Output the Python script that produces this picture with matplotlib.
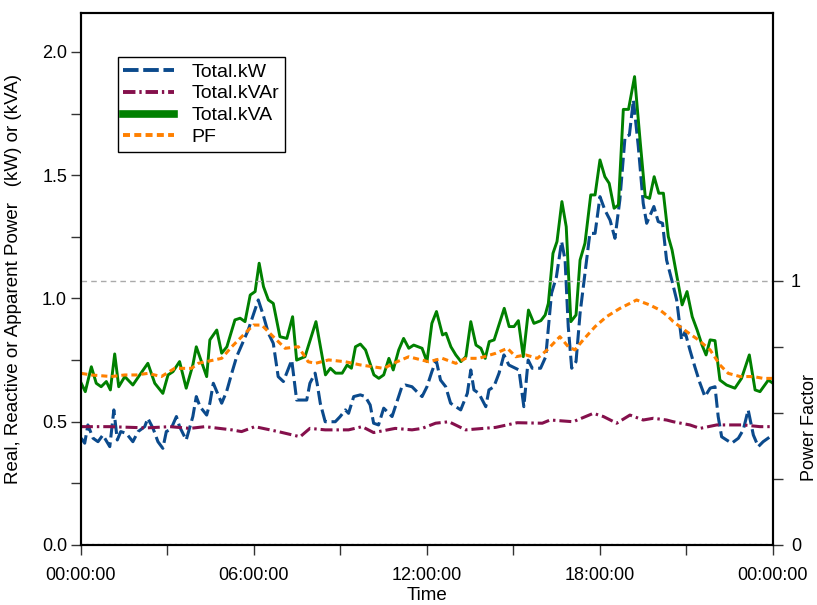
import matplotlib
matplotlib.use('Agg')
import matplotlib.pyplot as plt
from matplotlib.ticker import MultipleLocator, FixedLocator, FuncFormatter
from matplotlib.lines import Line2D

plt.rcParams['font.family'] = ['Liberation Sans', 'DejaVu Sans']

# Readings, time in hours of the day
kw_hours = [0.01, 0.13, 0.24, 0.42, 0.59, 0.76, 1.0, 1.14, 1.26, 1.38, 1.57, 1.80, 1.98, 2.21, 2.32,
            2.50, 2.67, 2.84, 2.96, 3.12, 3.31, 3.42, 3.65, 3.88, 4.0, 4.13, 4.36, 4.47, 4.59, 4.88,
            5.05, 5.23, 5.40, 5.80, 6.15, 6.32, 6.50, 6.67, 6.84, 7.02, 7.31, 7.48, 7.83, 7.94, 8.12,
            8.19, 8.30, 8.47, 8.82, 8.99, 9.17, 9.28, 9.46, 9.69, 9.86, 10.03, 10.15, 10.32, 10.50,
            10.79, 11.13, 11.25, 11.48, 11.65, 11.83, 12.0, 12.17, 12.32, 12.47, 12.65, 12.82, 13.0,
            13.17, 13.40, 13.52, 13.63, 13.80, 14.04, 14.15, 14.32, 14.50, 14.67, 14.84, 15.19, 15.36,
            15.51, 15.65, 15.94, 16.12, 16.32, 16.49, 16.67, 16.79, 16.90, 17.02, 17.17, 17.31, 17.48,
            17.65, 17.83, 18.0, 18.17, 18.35, 18.52, 18.69, 18.87, 19.02, 19.16, 19.33, 19.50, 19.62,
            19.87, 20.02, 20.17, 20.31, 20.49, 20.66, 20.83, 20.95, 21.12, 21.29, 21.47, 21.64, 21.82,
            21.99, 22.10, 22.22, 22.39, 22.57, 22.80, 22.97, 23.14, 23.32, 23.49, 23.66, 23.90, 24.0]
kw = [0.433, 0.413, 0.487, 0.433, 0.419, 0.446, 0.399, 0.548, 0.426, 0.46, 0.453, 0.419, 0.46, 0.48, 0.514,
      0.473, 0.419, 0.392, 0.46, 0.47, 0.521, 0.48, 0.426, 0.521, 0.602, 0.561, 0.527, 0.575, 0.656, 0.575,
      0.622, 0.697, 0.764, 0.872, 0.994, 0.933, 0.859, 0.818, 0.683, 0.663, 0.75, 0.588, 0.588, 0.656, 0.697,
      0.656, 0.575, 0.5, 0.5, 0.521, 0.548, 0.534, 0.602, 0.609, 0.602, 0.568, 0.494, 0.487, 0.555,
      0.521, 0.642, 0.649, 0.642, 0.622, 0.602, 0.642, 0.703, 0.75, 0.669, 0.642, 0.575, 0.561,
      0.548, 0.615, 0.71, 0.629, 0.615, 0.561, 0.629, 0.642, 0.697, 0.771, 0.73, 0.71, 0.561,
      0.75, 0.717, 0.717, 0.764, 1.021, 1.088, 1.231, 1.156, 0.886, 0.717, 0.744, 0.94, 1.102,
      1.264, 1.264, 1.413, 1.359, 1.318, 1.244, 1.4, 1.656, 1.663, 1.805, 1.616, 1.386, 1.305,
      1.373, 1.312, 1.305, 1.156, 1.075, 0.994, 0.832, 0.865, 0.791, 0.723, 0.656, 0.602, 0.636,
      0.642, 0.521, 0.439, 0.426, 0.413, 0.433, 0.467, 0.548, 0.446, 0.399, 0.419, 0.439, 0.433]

kvar_hours = [0.0, 1.0, 2.28, 3.09, 3.78, 4.30, 5.23, 5.57, 6.03, 6.84, 7.60, 7.94, 8.47, 9.28, 9.75,
              10.15, 10.90, 11.48, 11.83, 12.30, 12.76, 13.34, 14.38, 15.13, 16.0, 16.27, 17.07, 17.77,
              18.12, 18.58, 19.04, 19.50, 19.85, 20.31, 20.54, 21.12, 21.47, 22.05, 22.97, 23.55, 24.0]
kvar = [0.48, 0.48, 0.475, 0.48, 0.473, 0.48, 0.467, 0.46, 0.48, 0.46, 0.439, 0.473, 0.467, 0.467, 0.48,
        0.456, 0.473, 0.467, 0.473, 0.494, 0.5, 0.467, 0.477, 0.496, 0.494, 0.507, 0.5, 0.534,
        0.521, 0.494, 0.527, 0.507, 0.514, 0.507, 0.5, 0.487, 0.473, 0.487, 0.487, 0.48, 0.48]

kva_hours = [0.01, 0.15, 0.36, 0.53, 0.70, 0.88, 1.02, 1.17, 1.31, 1.52, 1.80, 2.04, 2.32, 2.56, 2.84,
             3.02, 3.19, 3.42, 3.65, 3.88, 4.0, 4.36, 4.47, 4.71, 4.88, 5.06, 5.34, 5.52, 5.69, 5.87,
             6.04, 6.18, 6.33, 6.50, 6.67, 6.90, 7.14, 7.34, 7.48, 7.77, 8.15, 8.48, 8.65, 8.83, 9.06,
             9.23, 9.38, 9.52, 9.69, 9.87, 10.16, 10.33, 10.50, 10.68, 10.83, 11.02, 11.19, 11.37,
             11.54, 11.83, 12.0, 12.17, 12.33, 12.54, 12.66, 12.83, 13.0, 13.18, 13.35, 13.52, 13.70,
             13.87, 14.02, 14.16, 14.33, 14.68, 14.85, 15.02, 15.17, 15.34, 15.52, 15.71, 15.95, 16.10,
             16.21, 16.37, 16.51, 16.68, 16.83, 16.99, 17.17, 17.31, 17.48, 17.68, 17.83, 18.0, 18.17,
             18.32, 18.49, 18.64, 18.81, 18.99, 19.20, 19.40, 19.57, 19.72, 19.88, 20.04, 20.20, 20.37,
             20.50, 20.67, 20.85, 21.02, 21.20, 21.37, 21.54, 21.68, 21.82, 21.99, 22.16, 22.39, 22.68,
             22.91, 23.18, 23.38, 23.55, 23.84, 24.0]
kva = [0.656, 0.622, 0.723, 0.656, 0.642, 0.663, 0.629, 0.775, 0.642, 0.683, 0.649, 0.69, 0.737, 0.656, 0.615,
       0.69, 0.703, 0.744, 0.636, 0.73, 0.804, 0.683, 0.832, 0.872, 0.778, 0.804, 0.913, 0.92, 0.906, 1.014,
       1.028, 1.143, 1.048, 0.994, 0.98, 0.845, 0.838, 0.926, 0.75, 0.764, 0.906, 0.69, 0.717, 0.697, 0.697,
       0.73, 0.717, 0.804, 0.815, 0.791, 0.69, 0.676, 0.69, 0.757, 0.71, 0.791, 0.838, 0.798,
       0.811, 0.798, 0.744, 0.899, 0.947, 0.852, 0.859, 0.804, 0.771, 0.744, 0.764, 0.906, 0.811,
       0.798, 0.757, 0.825, 0.832, 0.96, 0.886, 0.886, 0.91, 0.764, 0.953, 0.899, 0.91, 0.933,
       0.98, 1.183, 1.231, 1.393, 1.291, 0.906, 0.933, 1.156, 1.224, 1.42, 1.42, 1.562, 1.494,
       1.467, 1.366, 1.379, 1.767, 1.767, 1.90, 1.63, 1.413, 1.406, 1.494, 1.427, 1.427, 1.251,
       1.197, 1.088, 0.974, 1.028, 0.926, 0.872, 0.811, 0.771, 0.832, 0.829, 0.669, 0.649, 0.636,
       0.676, 0.771, 0.629, 0.622, 0.669, 0.656]

pf_hours = [0.01, 0.36, 1.05, 1.52, 1.92, 2.32, 2.79, 3.25, 3.83, 4.07, 4.88, 5.23, 5.63, 5.98, 6.27,
            6.67, 7.08, 7.54, 7.88, 8.13, 8.59, 9.17, 9.69, 10.50, 10.96, 11.37, 12.06, 12.53, 13.0,
            13.34, 13.80, 14.38, 14.79, 15.08, 15.42, 15.83, 16.17, 16.61, 16.90, 17.13, 17.42, 17.83,
            18.23, 18.69, 19.27, 19.73, 20.08, 20.37, 20.54, 21.01, 21.41, 21.82, 22.16, 22.45, 22.86,
            23.32, 23.66, 24.0]
pf = [0.65, 0.644, 0.638, 0.644, 0.644, 0.65, 0.638, 0.669, 0.669, 0.688, 0.707, 0.751, 0.795, 0.833, 0.833,
      0.789, 0.745, 0.751, 0.694, 0.688, 0.701, 0.694, 0.682, 0.669, 0.694, 0.713, 0.694, 0.707, 0.688,
      0.707, 0.707, 0.726, 0.745, 0.713, 0.72, 0.707, 0.739, 0.789, 0.751, 0.739, 0.777, 0.827,
      0.865, 0.896, 0.928, 0.909, 0.89, 0.865, 0.846, 0.808, 0.777, 0.739, 0.682, 0.65, 0.638,
      0.638, 0.631, 0.631]

hour_ticks = [0, 6, 12, 18, 24]

fig = plt.figure(figsize=(8.17, 6.05), dpi=100)
ax = fig.add_axes([0.0991, 0.0992, 0.847, 0.8793])
ax2 = ax.twinx()

# Power lines on the left axis
l_kw, = ax.plot(kw_hours, kw, color='#0b4a8c', lw=2.2, linestyle=(0, (4.6, 1.6)), label='Total.kW')
l_kvar, = ax.plot(kvar_hours, kvar, color='#85104c', lw=2.2, linestyle=(0, (3.9, 1.3, 0.8, 1.3)), label='Total.kVAr')
l_kva, = ax.plot(kva_hours, kva, color='#008000', lw=2.1, label='Total.kVA')
ax.axhline(0, color='black', lw=1.5, linestyle=':')

# Power factor on the right axis
ax2.axhline(1, color='#aaaaaa', lw=1.0, linestyle=(0, (4, 3)))
l_pf, = ax2.plot(pf_hours, pf, color='#ff8000', lw=2.2, linestyle=(0, (2.0, 1.3)), label='PF')

ax.set_xlim(0, 24)
ax.set_ylim(0, 2.158)
ax2.set_ylim(0, 2.015)

ax.xaxis.set_major_locator(FixedLocator(hour_ticks))
ax.xaxis.set_minor_locator(MultipleLocator(3))
ax.xaxis.set_major_formatter(FuncFormatter(lambda h, pos: '%02d:00:00' % (int(round(h)) % 24)))
ax.yaxis.set_major_locator(MultipleLocator(0.5))
ax.yaxis.set_minor_locator(MultipleLocator(0.25))
ax.yaxis.set_major_formatter(FuncFormatter(lambda v, pos: '%.1f' % v))
ax2.yaxis.set_major_locator(FixedLocator([0, 1]))
ax2.yaxis.set_minor_locator(FixedLocator([0.25, 0.5, 0.75]))
ax2.yaxis.set_major_formatter(FuncFormatter(lambda v, pos: '%d' % v))

for a in (ax, ax2):
    a.tick_params(which='both', direction='out', length=7, width=1, labelsize=13, color='#333333')
    for s in a.spines.values():
        s.set_linewidth(1.5)
ax.tick_params(axis='x', pad=9)
ax.tick_params(axis='y', pad=3)
ax2.tick_params(axis='y', pad=6)

ax.set_xlabel('Time', fontsize=13.5, labelpad=2)
ax.set_ylabel('Real, Reactive or Apparent Power   (kW) or (kVA)', fontsize=13.5)
ax.yaxis.set_label_coords(-0.085, 0.5)
ax2.set_ylabel('Power Factor', fontsize=13)
ax2.yaxis.set_label_coords(1.04, 0.22)

# Legend with a thicker kVA handle
handles = [Line2D([], [], color=l_kw.get_color(), lw=2.8, linestyle=(0, (4.0, 1.2))),
           Line2D([], [], color=l_kvar.get_color(), lw=2.8, linestyle=(0, (3.2, 1.0, 0.6, 1.0))),
           Line2D([], [], color=l_kva.get_color(), lw=5.5),
           Line2D([], [], color=l_pf.get_color(), lw=2.8, linestyle=(0, (1.8, 1.1)))]
labels = ['Total.kW', 'Total.kVAr', 'Total.kVA', 'PF']
leg = ax2.legend(handles, labels, loc='upper left', bbox_to_anchor=(0.053, 0.917), fontsize=14,
                 frameon=True, fancybox=False, framealpha=1, edgecolor='black', handlelength=2.6,
                 labelspacing=0.22, borderpad=0.3, handletextpad=0.9, borderaxespad=0)
leg.get_frame().set_linewidth(1.0)

fig.savefig('out.png', dpi=100)
